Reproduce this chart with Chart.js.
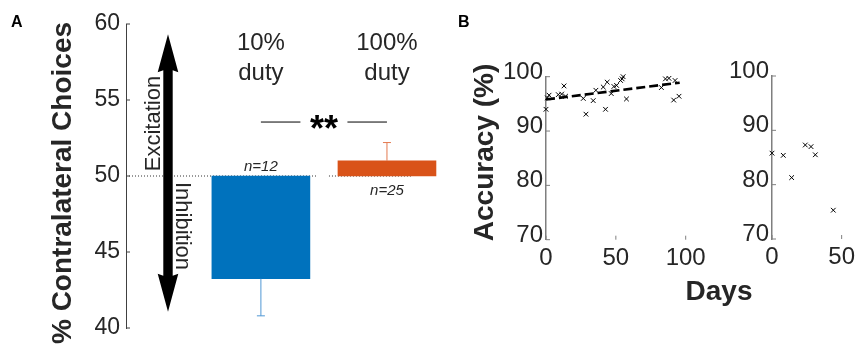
<!DOCTYPE html>
<html>
<head>
<meta charset="utf-8">
<script src="https://cdn.jsdelivr.net/npm/chart.js@4.4.1/dist/chart.umd.min.js"></script>
<style>
  body { margin: 0; background: #fff; }
  .wrap { position: relative; width: 859px; height: 348px; overflow: hidden; }
  canvas { position: absolute; left: 0; top: 0; width: 859px; height: 348px; }
</style>
</head>
<body>
<div class="wrap">
  <canvas id="panelA" width="859" height="348"></canvas>
  <canvas id="panelB1" width="859" height="348"></canvas>
  <canvas id="panelB2" width="859" height="348"></canvas>
</div>
<script>
// Panel A: % contralateral choices per duty cycle
const dutyLabels = [['10%', 'duty'], ['100%', 'duty']];
const dutyPos = [1, 2];
const meanChoices = [43.24, 51.0];
const semChoices = [2.44, 1.2];
const nLabels = ['n=12', 'n=25'];
const chanceLevel = 50;
const choiceTicks = [40, 45, 50, 55, 60];

// Panel B: accuracy over days (two animals)
const daysLeft = [0, 1, 2.2, 8.8, 11.2, 12.9, 14, 26.7, 28.6, 33.8, 35.7, 41, 42.6, 43.8, 46.7,
  48.6, 50.5, 53.4, 54.5, 55.2, 57.6, 82.6, 85.5, 88, 92.4, 91.4, 95.2];
const accLeft = [94.0, 96.1, 96.6, 96.7, 96.8, 98.3, 96.4, 96.0, 93.1, 95.6, 97.5, 98.1, 94.0, 99.0, 96.9,
  98.2, 98.4, 99.3, 99.6, 100.0, 95.9, 98.0, 99.6, 99.7, 99.3, 95.7, 96.4];
const trendDays = [0, 95.7];
const trendAcc = [95.8, 98.9];
const daysRight = [0, 8.1, 14.1, 23.9, 28, 31.1, 44];
const accRight = [85.8, 85.4, 81.3, 87.3, 87.0, 85.5, 75.3];
const accTicks = [70, 80, 90, 100];

const FONT = '"Liberation Sans", Arial, sans-serif';
const TXT = '#262626';

function rotText(ctx, text, x, y, angle, font) {
  ctx.save();
  ctx.translate(x, y);
  ctx.rotate(angle);
  ctx.font = font;
  ctx.textAlign = 'center';
  ctx.textBaseline = 'alphabetic';
  ctx.fillText(text, 0, 0);
  ctx.restore();
}

// ---------- Panel A ----------
const panelAPlugin = {
  id: 'panelA',
  beforeDatasetsDraw(chart) {
    const {ctx, scales: {x, y}} = chart;
    const y50 = y.getPixelForValue(chanceLevel);
    ctx.save();
    ctx.strokeStyle = '#333';
    ctx.lineWidth = 1;
    ctx.setLineDash([1, 2]);
    ctx.beginPath();
    ctx.moveTo(chart.chartArea.left, y50);
    ctx.lineTo(x.getPixelForValue(1.45), y50);
    ctx.moveTo(x.getPixelForValue(1.54), y50);
    ctx.lineTo(x.getPixelForValue(2.2), y50);
    ctx.stroke();
    ctx.restore();
  },
  afterDatasetsDraw(chart) {
    const {ctx, scales: {x, y}, chartArea} = chart;
    const y50 = y.getPixelForValue(chanceLevel);
    const whisker = ['#4f97d4', '#e3794f'];
    ctx.save();
    // error bars, away from chance level
    meanChoices.forEach((m, i) => {
      const dir = m < chanceLevel ? -1 : 1;
      const px = x.getPixelForValue(dutyPos[i]);
      const y0 = y.getPixelForValue(m);
      const y1 = y.getPixelForValue(m + dir * semChoices[i]);
      ctx.strokeStyle = whisker[i];
      ctx.lineWidth = 1;
      ctx.beginPath();
      ctx.moveTo(px, y0);
      ctx.lineTo(px, y1);
      ctx.moveTo(px - 4, y1);
      ctx.lineTo(px + 4, y1);
      ctx.stroke();
    });
    // inward ticks
    ctx.strokeStyle = '#404040';
    y.ticks.forEach(t => {
      const py = y.getPixelForValue(t.value);
      ctx.beginPath();
      ctx.moveTo(chartArea.left, py);
      ctx.lineTo(chartArea.left + 4, py);
      ctx.stroke();
    });
    ctx.fillStyle = TXT;
    // duty labels
    ctx.font = '24px ' + FONT;
    ctx.textAlign = 'center';
    ctx.textBaseline = 'alphabetic';
    dutyLabels.forEach((lines, i) => {
      const px = x.getPixelForValue(dutyPos[i]);
      lines.forEach((ln, k) => ctx.fillText(ln, px, chartArea.top + 25.5 + k * 30));
    });
    // n labels
    ctx.font = 'italic 15px ' + FONT;
    nLabels.forEach((n, i) => {
      const px = x.getPixelForValue(dutyPos[i]);
      const py = meanChoices[i] < chanceLevel ? y50 - 5.5 : y50 + 19;
      ctx.fillText(n, px, py);
    });
    // significance
    const ys = y.getPixelForValue(53.55);
    const xa = x.getPixelForValue(dutyPos[0]);
    const xb = x.getPixelForValue(dutyPos[1]);
    const xm = (xa + xb) / 2;
    ctx.strokeStyle = '#000';
    ctx.beginPath();
    ctx.moveTo(xa, ys);
    ctx.lineTo(xm - 23.5, ys);
    ctx.moveTo(xm + 23.5, ys);
    ctx.lineTo(xb, ys);
    ctx.stroke();
    ctx.fillStyle = '#000';
    ctx.font = 'bold 36px ' + FONT;
    ctx.fillText('**', xm, ys + 18.5);
    // double arrow
    const cx = chartArea.left + 42;
    const yt = y.getPixelForValue(59.32);
    const yb = y.getPixelForValue(41.07);
    const hw = 10.3, sw = 4.7, hl = 38;
    ctx.beginPath();
    ctx.moveTo(cx, yt);
    ctx.lineTo(cx + hw, yt + hl);
    ctx.lineTo(cx + sw, yt + hl - 2);
    ctx.lineTo(cx + sw, yb - hl + 2);
    ctx.lineTo(cx + hw, yb - hl);
    ctx.lineTo(cx, yb);
    ctx.lineTo(cx - hw, yb - hl);
    ctx.lineTo(cx - sw, yb - hl + 2);
    ctx.lineTo(cx - sw, yt + hl - 2);
    ctx.lineTo(cx - hw, yt + hl);
    ctx.closePath();
    ctx.fill();
    ctx.fillStyle = TXT;
    rotText(ctx, 'Excitation', cx - 8, y50 - 52.5, -Math.PI / 2, '22px ' + FONT);
    rotText(ctx, 'Inhibition', cx + 8, y50 + 50, Math.PI / 2, '22px ' + FONT);
    // axis title and panel letter
    rotText(ctx, '% Contralateral Choices', 71, 183, -Math.PI / 2, 'bold 28px ' + FONT);
    ctx.fillStyle = '#000';
    ctx.font = 'bold 16px ' + FONT;
    ctx.textAlign = 'left';
    ctx.fillText('A', 11, 26.7);
    ctx.restore();
  }
};

new Chart(document.getElementById('panelA'), {
  type: 'bar',
  data: {
    datasets: [{
      data: dutyPos.map((p, i) => ({x: p, y: [chanceLevel, meanChoices[i]]})),
      backgroundColor: ['#0072BD', '#D95319'],
      borderWidth: 0,
      barThickness: 98
    }]
  },
  options: {
    responsive: false,
    animation: false,
    layout: {padding: {left: 0, top: 24, right: 409, bottom: 20}},
    plugins: {legend: {display: false}, tooltip: {enabled: false}},
    scales: {
      x: {type: 'linear', min: -0.07, max: 2.5, offset: false, display: false},
      y: {
        min: 40, max: 60,
        afterBuildTicks: s => { s.ticks = choiceTicks.map(v => ({value: v})); },
        afterFit: s => { s.width = 126; },
        grid: {display: false, drawTicks: false},
        border: {display: true, color: '#404040', width: 1},
        ticks: {font: {family: FONT, size: 23}, color: TXT, padding: 6}
      }
    }
  },
  plugins: [panelAPlugin]
});

// ---------- Panel B ----------
function inwardTicks(chart) {
  const {ctx, scales: {x, y}, chartArea} = chart;
  ctx.save();
  ctx.strokeStyle = '#7f7f7f';
  ctx.lineWidth = 1;
  y.ticks.forEach(t => {
    const py = y.getPixelForValue(t.value);
    ctx.beginPath();
    ctx.moveTo(chartArea.left, py);
    ctx.lineTo(chartArea.left + 4, py);
    ctx.stroke();
  });
  x.ticks.forEach(t => {
    const px = x.getPixelForValue(t.value);
    ctx.beginPath();
    ctx.moveTo(px, chartArea.bottom);
    ctx.lineTo(px, chartArea.bottom - 4);
    ctx.stroke();
  });
  ctx.restore();
}

function accScales(xMax, yWidth) {
  return {
    x: {
      type: 'linear', min: 0, max: xMax,
      ticks: {stepSize: 50, font: {family: FONT, size: 24}, color: TXT, padding: 4, maxRotation: 0},
      grid: {display: false, drawTicks: false},
      border: {display: false},
      afterFit: s => { s.height = 30; }
    },
    y: {
      min: 70, max: 100,
      afterBuildTicks: s => { s.ticks = accTicks.map(v => ({value: v})); },
      afterFit: s => { s.width = yWidth; },
      ticks: {font: {family: FONT, size: 24}, color: TXT, padding: 3, labelOffset: -4.5},
      grid: {display: false, drawTicks: false},
      border: {display: true, color: '#7f7f7f', width: 1.5}
    }
  };
}

const markerStyle = {
  pointStyle: 'crossRot',
  pointRadius: 3.3,
  pointBorderWidth: 1,
  pointBorderColor: '#000',
  pointBackgroundColor: '#000',
  showLine: false,
  clip: false
};

new Chart(document.getElementById('panelB1'), {
  type: 'scatter',
  data: {
    datasets: [
      Object.assign({data: daysLeft.map((d, i) => ({x: d, y: accLeft[i]}))}, markerStyle),
      {
        type: 'line',
        data: trendDays.map((d, i) => ({x: d, y: trendAcc[i]})),
        borderColor: '#000',
        borderWidth: 2.6,
        borderDash: [9, 4],
        pointRadius: 0,
        clip: false
      }
    ]
  },
  options: {
    responsive: false,
    animation: false,
    layout: {padding: {left: 0, top: 76.7, right: 173.3, bottom: 78.3}},
    plugins: {legend: {display: false}, tooltip: {enabled: false}},
    scales: accScales(100, 546)
  },
  plugins: [{
    id: 'panelB1',
    afterDraw(chart) {
      inwardTicks(chart);
      const {ctx} = chart;
      ctx.save();
      ctx.fillStyle = TXT;
      rotText(ctx, 'Accuracy (%)', 493.3, 152.5, -Math.PI / 2, 'bold 28px ' + FONT);
      ctx.font = 'bold 28px ' + FONT;
      ctx.textAlign = 'center';
      ctx.fillText('Days', 719, 300);
      ctx.fillStyle = '#000';
      ctx.font = 'bold 16px ' + FONT;
      ctx.textAlign = 'left';
      ctx.fillText('B', 458, 26.7);
      ctx.restore();
    }
  }]
});

new Chart(document.getElementById('panelB2'), {
  type: 'scatter',
  data: {
    datasets: [
      Object.assign({data: daysRight.map((d, i) => ({x: d, y: accRight[i]}))}, markerStyle)
    ]
  },
  options: {
    responsive: false,
    animation: false,
    layout: {padding: {left: 0, top: 76, right: 17.3, bottom: 79}},
    plugins: {legend: {display: false}, tooltip: {enabled: false}},
    scales: accScales(50, 772)
  },
  plugins: [{id: 'panelB2', afterDraw: inwardTicks}]
});
</script>
</body>
</html>
